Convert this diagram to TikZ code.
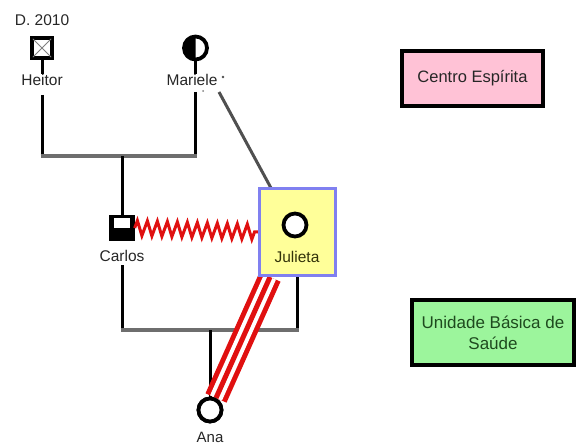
\documentclass[tikz,border=0pt]{standalone}
\usepackage{fontspec}
\setmainfont{Liberation Sans}
\usetikzlibrary{decorations.pathmorphing,calc}
\definecolor{unionGray}{HTML}{6E6E6E}
\definecolor{linkGray}{HTML}{505050}
\definecolor{pinkFill}{HTML}{FFC2D6}
\definecolor{greenFill}{HTML}{9CF59C}
\definecolor{yellowFill}{HTML}{FFFF99}
\definecolor{boxBlue}{HTML}{8080F0}
\definecolor{redLine}{HTML}{E01010}
\definecolor{greenText}{HTML}{1E4A1E}
\definecolor{julText}{HTML}{33330A}
\begin{document}
\begin{tikzpicture}[x=1pt,y=-1pt,
  lbl/.style={font=\fontsize{15.5}{17}\selectfont, inner sep=0pt, text=black!85},
  boxtxt/.style={font=\fontsize{16.5}{20}\selectfont, align=center, inner sep=0pt},
  malesym/.style={draw=black, line width=3.8pt, minimum size=20.5pt, inner sep=0pt, fill=white},
  femsym/.style={circle, draw=black, line width=3.8pt, minimum size=23pt, inner sep=0pt, fill=white},
  kin/.style={line width=3pt, black},
  unionline/.style={line width=4.5pt, unionGray},
  infobox/.style={draw=black, line width=3.5pt, inner sep=0pt},
  julstyle/.style={draw=boxBlue, line width=3pt, fill=yellowFill, minimum width=76pt, minimum height=87pt, inner sep=0pt}
]
\useasboundingbox (0,0) rectangle (576,444);

% resource boxes
\node[infobox, fill=pinkFill, minimum width=141pt, minimum height=55pt] (centro) at (472.5,78.5) {};
\node[boxtxt, text=black!85] (centrotxt) at (centro.center) {Centro Espírita};
\node[infobox, fill=greenFill, minimum width=162pt, minimum height=65pt] (ubs) at (493,332.5) {};
\node[boxtxt, text=greenText, font=\fontsize{17}{21}\selectfont] (ubstxt) at (ubs.center) {Unidade Básica de\\Saúde};

% coordinates for family lines
\coordinate (htop) at (42,95);
\coordinate (mtop) at (195,92);
\coordinate (hdown) at (42,156);
\coordinate (mdown) at (195,156);
\coordinate (sib1) at (122,156);
\coordinate (ctop) at (122,265);
\coordinate (cdown) at (122,330);
\coordinate (jdown) at (297,330);
\coordinate (ana1) at (210,330);
\coordinate (mlink) at (219,92);
\coordinate (jlink) at (271,188);

% Julieta box
\node[julstyle] (julbox) at (297.5,232) {};

% symbols
\node[malesym] (heitor) at (42,48) {};
\node[femsym] (mariele) at (195.5,48) {};
\node[malesym, fill=black, minimum size=21.5pt] (carlos) at (122,228) {};
\node[femsym] (julieta) at (295,225) {};
\node[femsym] (ana) at (210,410) {};

% labels
\node[lbl] (dlab) at (42,20) {D. 2010};
\node[lbl] (hlab) at (42,80) {Heitor};
\node[lbl] (mlab) at (192,80) {Mariele};
\node[lbl] (clab) at (122,256) {Carlos};
\node[lbl, text=julText] (jlab) at (297,257) {Julieta};
\node[lbl, font=\fontsize{15}{16}\selectfont] (alab) at (210,437) {Ana};

% small dots near Mariele
\fill[black!70] (223,77) circle (1.3pt);
\fill[gray] (203,91) circle (1pt);

% Heitor + Mariele union
\draw[kin] (heitor.south) -- (heitor.south |- hlab.north);
\draw[kin] (mariele.south) -- (mariele.south |- mlab.north);
\draw[kin] (htop) -- (hdown);
\draw[kin] (mtop) -- (mdown);
\draw[unionline] ($(hdown)+(-1.5,0)$) -- ($(mdown)+(1.5,0)$);
\draw[kin] (sib1) -- (carlos.north);

% Mariele - Julieta link
\draw[linkGray, line width=3pt] (mlink) -- (jlink);

% Carlos + Julieta union
\draw[kin] (ctop) -- (cdown);
\draw[kin] (julbox.south -| jdown) -- (jdown);
\draw[unionline] ($(cdown)+(-1.5,0)$) -- ($(jdown)+(1.5,0)$);
\draw[kin] (ana1) -- (ana.north);

% conflict zigzag
\draw[redLine, line width=3pt, decorate, decoration={zigzag, segment length=10pt, amplitude=7.5pt}] (carlos.east) -- (julbox.west);

% triple red lines Julieta - Ana
\coordinate (rtop) at (270,277);
\coordinate (rbot) at (216,398);
\draw[redLine, line width=23pt] (rtop) -- (rbot);
\draw[white, line width=13pt] (rtop) -- (rbot);
\draw[redLine, line width=5pt] (rtop) -- (rbot);

% redraw box and symbols on top
\node[julstyle] at (julbox) {};
\node[femsym] at (julieta) {};
\node[lbl, text=julText] at (jlab) {Julieta};
\node[femsym] at (ana) {};

% symbol details
\draw[gray, line width=0.9pt] ($(heitor.north west)+(3,3)$) -- ($(heitor.south east)+(-3,-3)$);
\draw[gray, line width=0.9pt] ($(heitor.north east)+(-3,3)$) -- ($(heitor.south west)+(3,-3)$);
\begin{scope}
  \clip (180,30) rectangle (195.5,66);
  \fill[black] (mariele.center) circle (11.5);
\end{scope}
\fill[white] (114,218) rectangle (130,228);
\end{tikzpicture}
\end{document}
